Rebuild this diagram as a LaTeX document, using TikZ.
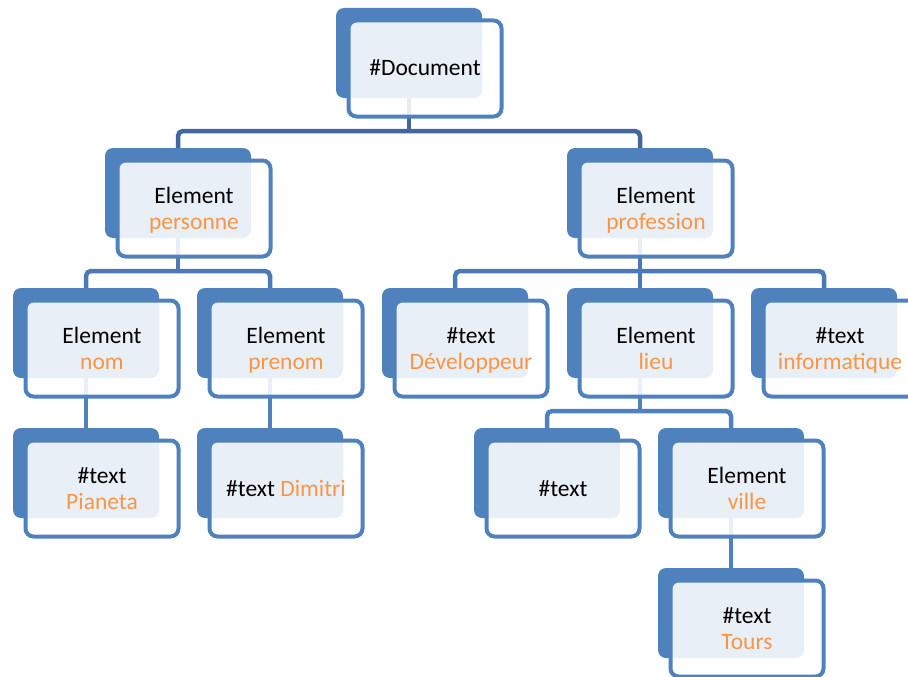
\documentclass[tikz,border=0pt]{standalone}
\usepackage{fontspec}
\setmainfont{Carlito}
\usetikzlibrary{backgrounds}

\definecolor{accent}{HTML}{4F81BD}
\definecolor{linkdark}{HTML}{41679C}
\definecolor{linkmid}{HTML}{4A79B6}
\definecolor{hilite}{HTML}{F79646}

\tikzset{
  backbox/.style={anchor=north west, fill=accent, draw=none, rounded corners=8pt,
    minimum width=146pt, minimum height=90pt, inner sep=0pt, outer sep=0pt},
  frontbox/.style={anchor=north west, draw=accent, line width=4pt,
    fill=white, fill opacity=0.88, rounded corners=8pt,
    minimum width=153pt, minimum height=96pt, inner sep=0pt, outer sep=0pt},
  boxtext/.style={anchor=base, inner sep=0pt, text=black,
    font=\fontsize{23.5}{28}\selectfont},
  accenttext/.style={boxtext, text=hilite},
  linkA/.style={draw=linkdark, line width=4.5pt, rounded corners=5pt},
  linkB/.style={draw=linkmid, line width=4.5pt, rounded corners=5pt},
  linkC/.style={draw=accent, line width=4.5pt, rounded corners=5pt},
}

% back plate + translucent front frame of one tree entry
\newcommand\treeframes[2]{%
  \node[backbox] (#1) at (#2) {};
  \node[frontbox] (#1-f) at ([shift={(12.5,12.5)}]#1.north west) {};
}
% entry with a single line of text
\newcommand\onebox[3]{%
  \treeframes{#1}{#2}%
  \node[boxtext] (#1-t) at ([shift={(89,68)}]#1.north west) {#3};
}
% entry with a type line and a highlighted value line
\newcommand\twobox[4]{%
  \treeframes{#1}{#2}%
  \node[boxtext] (#1-a) at ([shift={(89,55)}]#1.north west) {#3};
  \node[accenttext] (#1-b) at ([shift={(89,81.5)}]#1.north west) {#4};
}

\begin{document}
\begin{tikzpicture}[x=1pt, y=-1pt]
  \useasboundingbox (0,0) rectangle (908,677);
  \clip (0,0) rectangle (908,677);

  % level 1
  \onebox{doc}{336,8}{\#Document}
  % level 2
  \twobox{pers}{105,148}{Element}{personne}
  \twobox{prof}{567,148}{Element}{profession}
  % level 3
  \twobox{nom}{13,288}{Element}{nom}
  \twobox{prenom}{197,288}{Element}{prenom}
  \twobox{dev}{382,288}{\#text}{Développeur}
  \twobox{lieu}{567,288}{Element}{lieu}
  \twobox{info}{751,288}{\#text}{informatique}
  % level 4
  \twobox{pia}{13,428}{\#text}{Pianeta}
  \onebox{dim}{197,428}{\#text \textcolor{hilite}{Dimitri}}
  \onebox{empty}{474,428}{\#text}
  \twobox{ville}{658,428}{Element}{ville}
  % level 5
  \twobox{tours}{658,568}{\#text}{Tours}

  % bus heights
  \coordinate (busA) at (0,131);
  \coordinate (busB) at (0,271);
  \coordinate (busC) at (0,411);

  \begin{scope}[on background layer]
    % #Document -> children
    \draw[linkA] (doc.south) -- (doc.south |- busA);
    \draw[linkA] (doc.south |- busA) -| (pers.north);
    \draw[linkA] (doc.south |- busA) -| (prof.north);
    % personne -> children
    \draw[linkB] (pers.south) -- (pers.south |- busB);
    \draw[linkB] (pers.south |- busB) -| (nom.north);
    \draw[linkB] (pers.south |- busB) -| (prenom.north);
    % profession -> children
    \draw[linkB] (prof.south) -- (lieu.north);
    \draw[linkB] (prof.south |- busB) -| (dev.north);
    \draw[linkB] (prof.south |- busB) -| (info.north);
    % single children
    \draw[linkC] (nom.south) -- (pia.north);
    \draw[linkC] (prenom.south) -- (dim.north);
    % lieu -> children
    \draw[linkC] (lieu.south) -- (lieu.south |- busC);
    \draw[linkC] (lieu.south |- busC) -| (empty.north);
    \draw[linkC] (lieu.south |- busC) -| (ville.north);
    % ville -> Tours
    \draw[linkC] (ville.south) -- (tours.north);
  \end{scope}
\end{tikzpicture}
\end{document}
